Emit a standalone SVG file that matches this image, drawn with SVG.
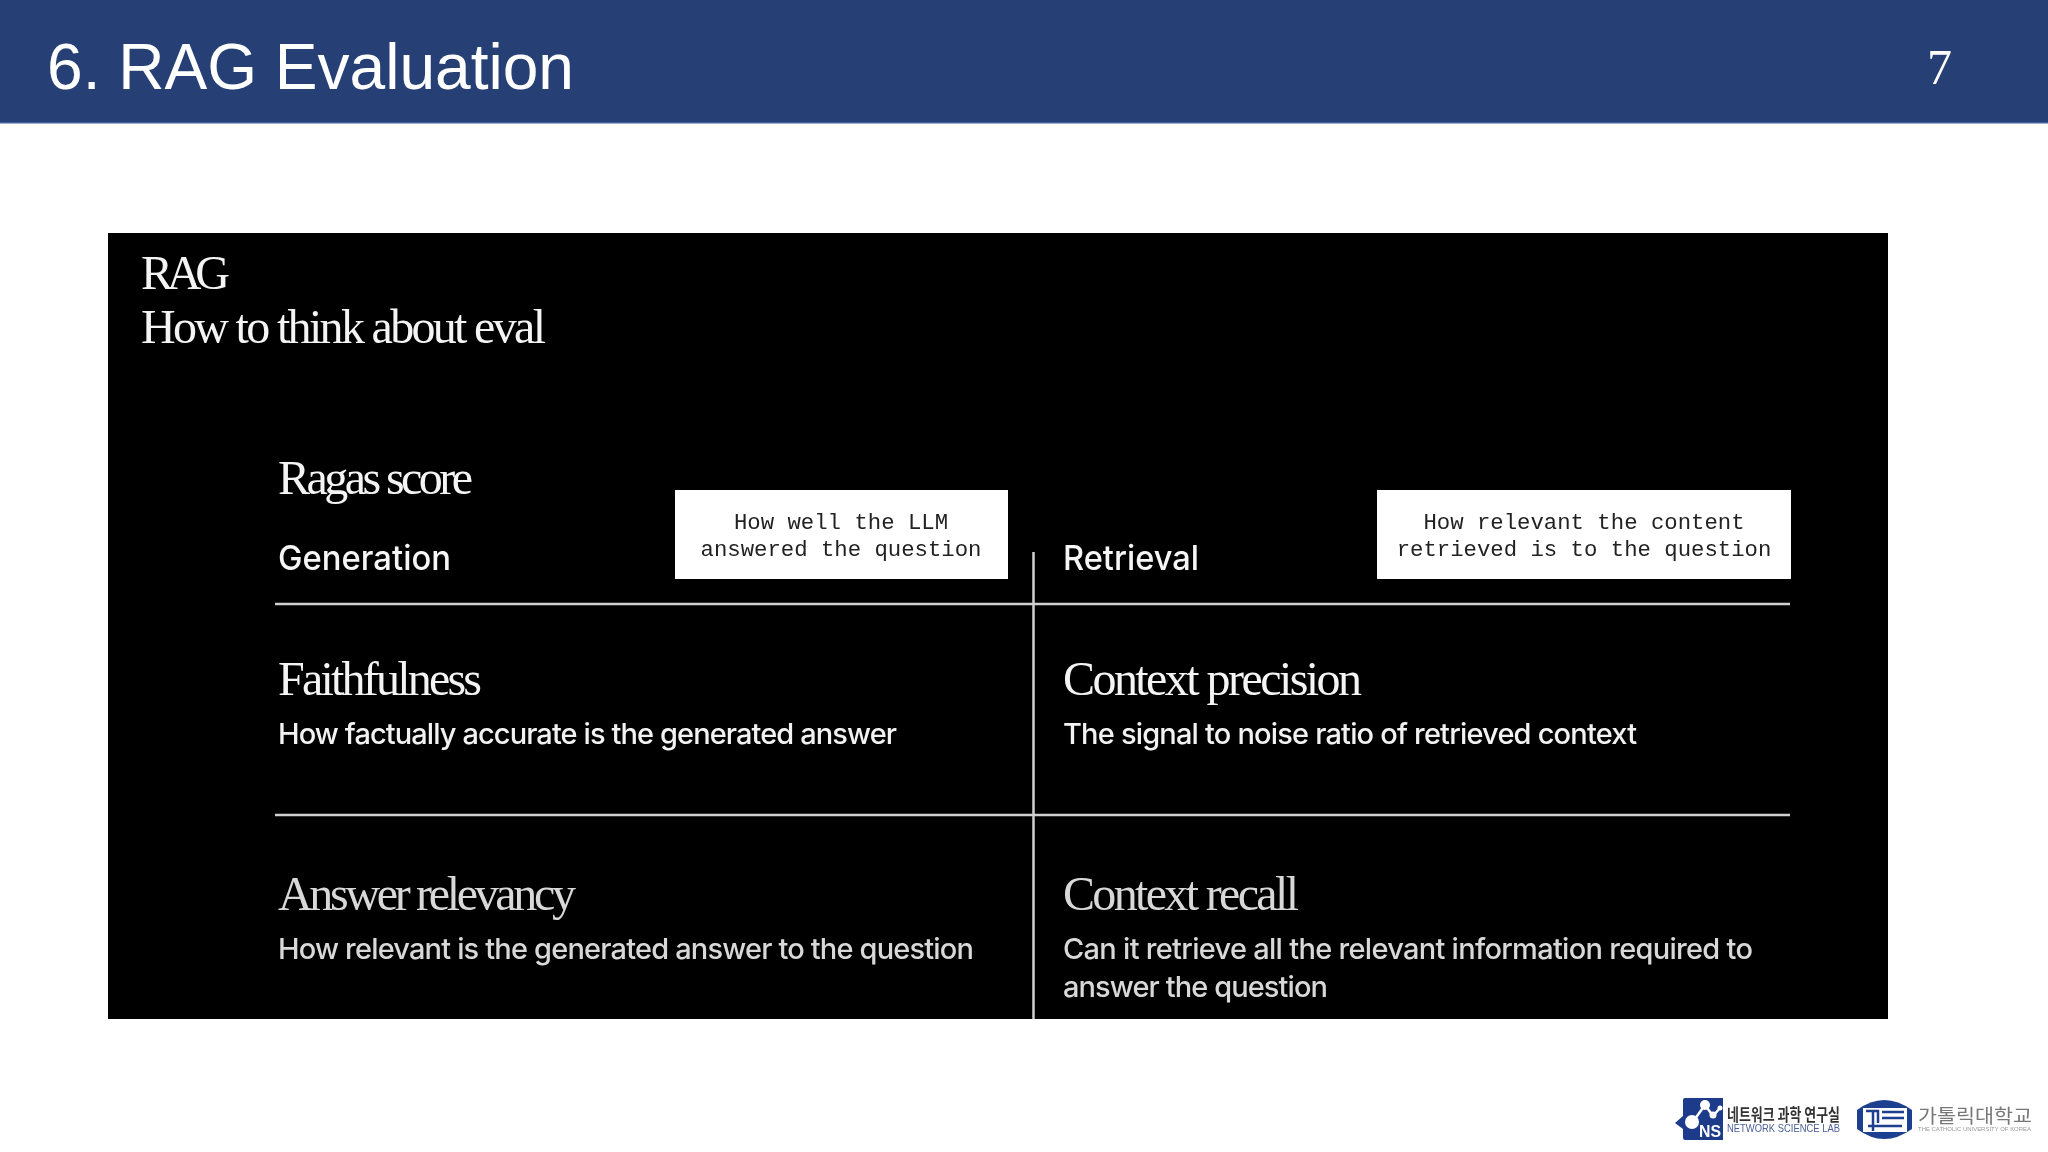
<svg xmlns="http://www.w3.org/2000/svg" width="2048" height="1152" viewBox="0 0 2048 1152">
<style>
.sf{font-family:"Liberation Serif",serif;font-size:48px;fill:#f4f4f4}
.ss{font-family:Inter,"Liberation Sans",sans-serif;font-size:29px;font-weight:500;fill:#f2f2f2}
.hd{font-family:Inter,"Liberation Sans",sans-serif;font-size:34px;font-weight:500;fill:#f6f6f6}
.mn{font-family:"Liberation Mono",monospace;font-size:22.3px;fill:#222;text-anchor:middle}
.rule{stroke:#d0d0d0;stroke-width:2.5;fill:none}
.dim{fill:#d8d8d8}
</style>
<defs><filter id="soft" x="-5%" y="-5%" width="110%" height="110%"><feGaussianBlur stdDeviation="0.45"/></filter></defs>
<rect width="2048" height="1152" fill="#fff"/>
<g id="header">
<rect width="2048" height="123" fill="#264076"/>
<rect y="122" width="2048" height="1.5" fill="#3f629b"/>
<text x="47" y="89" font-family="'Liberation Sans',sans-serif" font-size="64" fill="#fff" textLength="527" lengthAdjust="spacingAndGlyphs">6. RAG Evaluation</text>
<text x="1927" y="84" font-family="'Liberation Serif',serif" font-size="50" fill="#fff">7</text>
</g>
<g id="panel">
<rect x="108" y="233" width="1780" height="786" fill="#000"/>
<g filter="url(#soft)">
<text class="sf" x="141" y="289" textLength="89" lengthAdjust="spacing">RAG</text>
<text class="sf" x="141" y="343" textLength="405" lengthAdjust="spacing">How to think about eval</text>
</g>
</g>
<g id="connectors">
<path class="rule" d="M275 604H1790M275 815H1790"/>
<path class="rule" stroke-width="2" d="M1033.500 552V1019"/>
</g>
<g id="generation" filter="url(#soft)">
<text class="sf" x="278" y="494" textLength="195" lengthAdjust="spacing">Ragas score</text>
<text class="hd" x="278" y="570" textLength="173" lengthAdjust="spacingAndGlyphs">Generation</text>
</g>
<g id="note-generation" filter="url(#soft)">
<rect x="675" y="490" width="333" height="89" fill="#fff"/>
<text class="mn" x="841" y="529">How well the LLM</text>
<text class="mn" x="841" y="556">answered the question</text>
</g>
<g id="retrieval" filter="url(#soft)">
<text class="hd" x="1063" y="570" textLength="136" lengthAdjust="spacingAndGlyphs">Retrieval</text>
</g>
<g id="note-retrieval" filter="url(#soft)">
<rect x="1377" y="490" width="414" height="89" fill="#fff"/>
<text class="mn" x="1584" y="529">How relevant the content</text>
<text class="mn" x="1584" y="556">retrieved is to the question</text>
</g>
<g id="faithfulness" filter="url(#soft)">
<text class="sf" x="278" y="695" textLength="204" lengthAdjust="spacing">Faithfulness</text>
<text class="ss" x="278" y="744" textLength="619" lengthAdjust="spacing">How factually accurate is the generated answer</text>
</g>
<g id="context-precision" filter="url(#soft)">
<text class="sf" x="1063" y="695" textLength="299" lengthAdjust="spacing">Context precision</text>
<text class="ss" x="1063" y="744" textLength="574" lengthAdjust="spacing">The signal to noise ratio of retrieved context</text>
</g>
<g id="answer-relevancy" filter="url(#soft)">
<text class="sf dim" x="278" y="910" textLength="298" lengthAdjust="spacing">Answer relevancy</text>
<text class="ss dim" x="278" y="959" textLength="696" lengthAdjust="spacing">How relevant is the generated answer to the question</text>
</g>
<g id="context-recall" filter="url(#soft)">
<text class="sf dim" x="1063" y="910" textLength="236" lengthAdjust="spacing">Context recall</text>
<text class="ss dim" x="1063" y="959" textLength="690" lengthAdjust="spacing">Can it retrieve all the relevant information required to</text>
<text class="ss dim" x="1063" y="997" textLength="265" lengthAdjust="spacing">answer the question</text>
</g>
<g id="logo-nsl" filter="url(#soft)">
<path d="M1685 1098H1723V1140H1685Q1683 1140 1683 1137V1129L1675 1123L1683 1116V1100Q1683 1098 1685 1098Z" fill="#1e3a8a"/>
<path d="M1692 1123L1705 1105L1713 1116L1720 1108" stroke="#fff" stroke-width="2.500" fill="none"/>
<circle cx="1692" cy="1122" r="7" fill="#fff"/><circle cx="1705" cy="1105" r="5" fill="#fff"/><circle cx="1713" cy="1115" r="3.500" fill="#fff"/><circle cx="1720" cy="1108" r="2.500" fill="#fff"/>
<text x="1699" y="1137" font-family="'Liberation Sans',sans-serif" font-size="16" font-weight="700" fill="#fff" textLength="22" lengthAdjust="spacingAndGlyphs">NS</text>
<text x="1727" y="1121" font-family="'Noto Sans CJK KR',sans-serif" font-size="17" font-weight="700" fill="#333" textLength="113" lengthAdjust="spacingAndGlyphs">네트워크 과학 연구실</text>
<text x="1727" y="1132" font-family="'Liberation Sans',sans-serif" font-size="11" fill="#4a5f9a" textLength="113" lengthAdjust="spacingAndGlyphs">NETWORK SCIENCE LAB</text>
</g>
<g id="logo-cuk" filter="url(#soft)">
<path d="M1857 1110Q1884 1090 1912 1110V1129Q1884 1149 1857 1129Z" fill="#1f3f8f"/>
<rect x="1863" y="1108" width="44" height="24" fill="#fff"/>
<path d="M1866 1111H1878V1123M1873 1111V1131M1882 1112H1904M1882 1118H1904M1868 1126H1902" stroke="#1f3f8f" stroke-width="2.500" fill="none"/>
<text x="1918" y="1123" font-family="'Noto Sans CJK KR',sans-serif" font-size="19" fill="#777" textLength="114" lengthAdjust="spacingAndGlyphs">가톨릭대학교</text>
<text x="1918" y="1131" font-family="'Liberation Sans',sans-serif" font-size="5" fill="#999" textLength="113" lengthAdjust="spacingAndGlyphs">THE CATHOLIC UNIVERSITY OF KOREA</text>
</g>
</svg>
